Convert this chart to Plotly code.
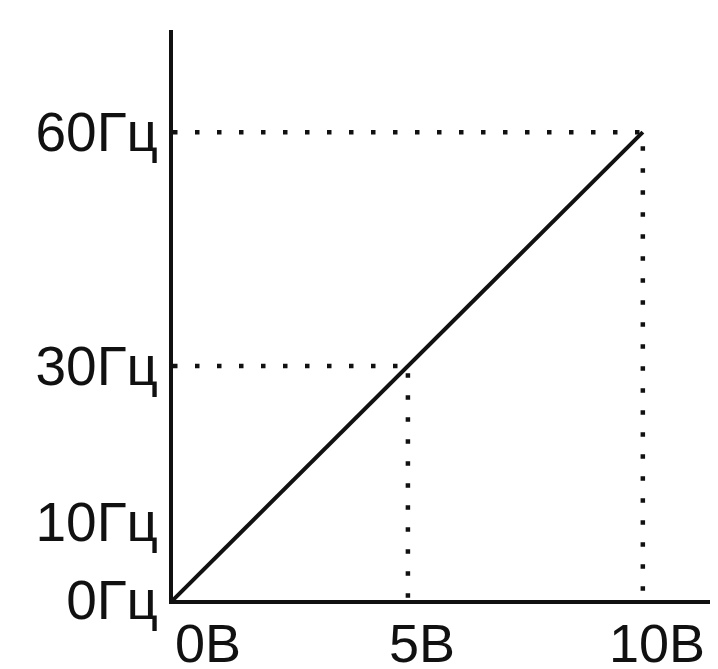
import plotly.graph_objects as go

# ---- data ----
volts = [0, 5, 10]                      # control voltage, V
hertz = [0, 30, 60]                     # output frequency, Hz
x_tick_values = [0, 5, 10]
x_tick_labels = ["0В", "5В", "10В"]
y_tick_values = [0, 10, 30, 60]
y_tick_labels = ["0Гц", "10Гц", "30Гц", "60Гц"]

FONT = "Liberation Sans, Arial, sans-serif"
BLACK = "#111111"

fig = go.Figure()

# dotted guide lines from the marked points to both axes
for v, h in ((volts[2], hertz[2]), (volts[1], hertz[1])):
    fig.add_trace(go.Scatter(
        x=[0, v, v], y=[h, h, 0], mode="lines",
        line=dict(color=BLACK, width=4.5, dash="4.5px,17.5px"),
        hoverinfo="skip", showlegend=False,
    ))

# main characteristic
fig.add_trace(go.Scatter(
    x=volts, y=hertz, mode="lines",
    line=dict(color=BLACK, width=4),
    showlegend=False,
))

# x tick labels as annotations (first one left-aligned at the origin)
for i, (xv, txt) in enumerate(zip(x_tick_values, x_tick_labels)):
    fig.add_annotation(
        x=xv, xref="x", y=0, yref="paper", text=txt, showarrow=False,
        xanchor="left" if i == 0 else "center",
        xshift=0 if i == 0 else 14,
        yanchor="middle", yshift=-43,
        font=dict(family=FONT, size=54, color=BLACK),
    )

# the page body has an 8px margin, so the figure is sized/offset to compensate
fig.update_layout(
    width=710, height=661,
    margin=dict(l=165, r=0, t=22, b=69),
    paper_bgcolor="white", plot_bgcolor="white",
    showlegend=False,
    xaxis=dict(range=[0, 11.6], showline=True, linecolor=BLACK, linewidth=4,
               showgrid=False, zeroline=False, showticklabels=False, ticks=""),
    yaxis=dict(range=[0, 73.1], showline=True, linecolor=BLACK, linewidth=4,
               showgrid=False, zeroline=False, ticks="",
               tickvals=y_tick_values, ticktext=y_tick_labels,
               ticklabelstandoff=0,
               tickfont=dict(family=FONT, size=55, color=BLACK)),
)

fig.write_html("out.html")
